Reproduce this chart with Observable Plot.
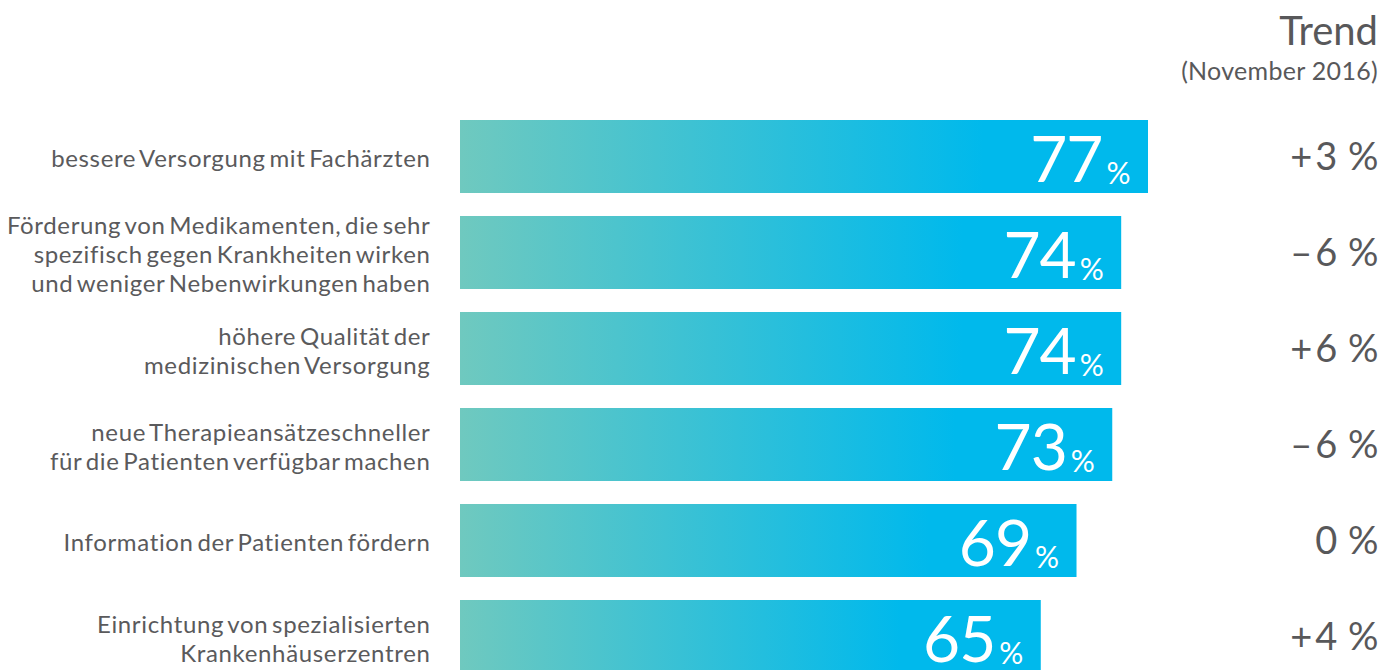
<!DOCTYPE html>
<html>
<head>
<meta charset="utf-8">
<script src="https://cdn.jsdelivr.net/npm/d3@7"></script>
<script src="https://cdn.jsdelivr.net/npm/@observablehq/plot@0.6"></script>
<style>
  html, body { margin: 0; padding: 0; background: #fff; }
  body { width: 1383px; height: 670px; overflow: hidden; font-family: Lato, sans-serif; }
  #header { position: relative; height: 95px; }
  #header .t1 { position: absolute; right: 5px; top: 10px; font-size: 40px; color: #58585a; line-height: 1; }
  #header .t2 { position: absolute; right: 5px; top: 58px; font-size: 25px; color: #58585a; line-height: 1; letter-spacing: 0.3px; }
  .cat-labels text { letter-spacing: 0.65px; word-spacing: -3px; }
  .val-labels text { letter-spacing: -1px; }
  .trend-labels text { letter-spacing: 3px; word-spacing: -5px; }
</style>
</head>
<body>
<div id="header"><div class="t1">Trend</div><div class="t2">(November 2016)</div></div>
<div id="chart"></div>
<script>
const categories = [
  "bessere Versorgung mit Fachärzten",
  "Förderung von Medikamenten, die sehr\nspezifisch gegen Krankheiten wirken\nund weniger Nebenwirkungen haben",
  "höhere Qualität der\nmedizinischen Versorgung",
  "neue Therapieansätzeschneller\nfür die Patienten verfügbar machen",
  "Information der Patienten fördern",
  "Einrichtung von spezialisierten\nKrankenhäuserzentren"
];
const values = [77, 74, 74, 73, 69, 65];
const trends = ["+3 %", "–6 %", "+6 %", "–6 %", "0 %", "+4 %"];

const data = categories.map((c, i) => ({cat: c, value: values[i], trend: trends[i]}));

const chart = Plot.plot({
  width: 1383,
  height: 575,
  margin: 0,
  style: {fontFamily: "Lato, sans-serif", overflow: "visible"},
  x: {domain: [0, 100], range: [460, 1353.5], axis: null},
  y: {domain: categories, range: [0.5, 603], padding: 0.2435, axis: null},
  marks: [
    Plot.barX(data, {x: "value", y: "cat", fill: "url(#bargrad)"}),
    Plot.text(data, {x: 0, y: "cat", text: "cat", textAnchor: "end", dx: -30, dy: 1, fontSize: 24, lineHeight: 1.2, fill: "#5a5a5c", className: "cat-labels"}),
    Plot.text(data, {x: "value", y: "cat", text: d => String(d.value), textAnchor: "end", dx: -46, dy: 5, fontSize: 64, fill: "#ffffff", className: "val-labels"}),
    Plot.text(data, {x: "value", y: "cat", text: d => "%", textAnchor: "end", dx: -18, dy: 17, fontSize: 30, fill: "#ffffff"}),
    Plot.text(data, {y: "cat", text: "trend", textAnchor: "end", frameAnchor: "right", dx: -2, dy: 1, fontSize: 38, fill: "#58585a", className: "trend-labels"})
  ]
});

const svg = d3.select(chart);
const defs = svg.insert("defs", ":first-child");
const g = defs.append("linearGradient").attr("id", "bargrad").attr("x1", "0").attr("x2", "1").attr("y1", "0").attr("y2", "0");
g.append("stop").attr("offset", "0").attr("stop-color", "#6fc9bf");
g.append("stop").attr("offset", "0.76").attr("stop-color", "#00b9ec");
g.append("stop").attr("offset", "1").attr("stop-color", "#00b9ec");

document.getElementById("chart").appendChild(chart);
</script>
</body>
</html>
